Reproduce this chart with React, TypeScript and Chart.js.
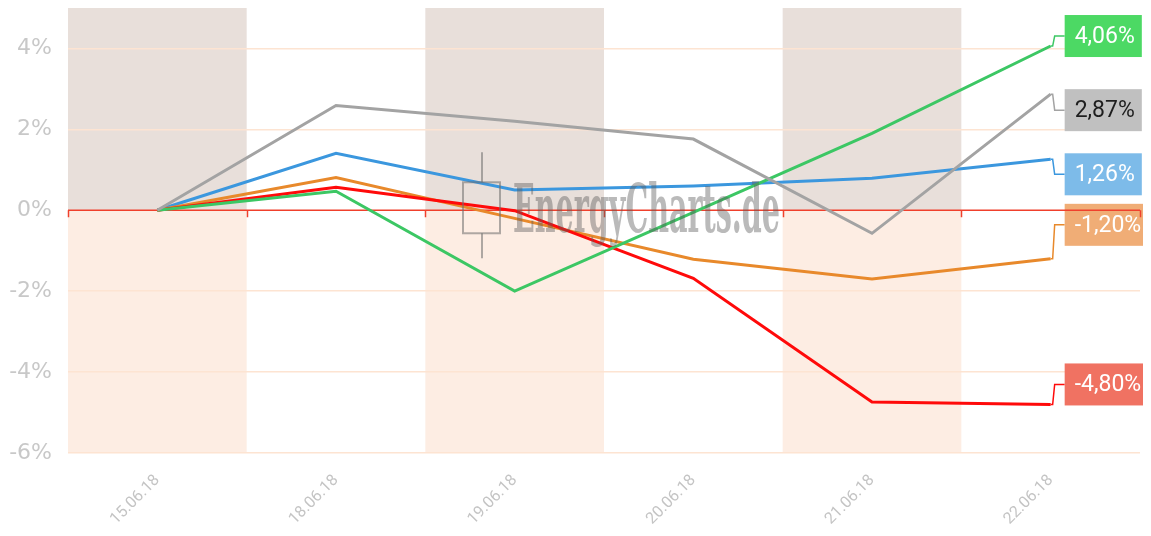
import React, { useEffect, useRef } from "react";
import { Chart, registerables } from "chart.js";

Chart.register(...registerables);

// ---- data ----
const categories = ["15.06.18", "18.06.18", "19.06.18", "20.06.18", "21.06.18", "22.06.18"];
const grayValues = [0, 2.59, 2.2, 1.76, -0.57, 2.87];
const greenValues = [0, 0.47, -2.0, -0.05, 1.9, 4.06];
const redValues = [0, 0.57, -0.01, -1.68, -4.74, -4.8];
const orangeValues = [0, 0.81, -0.2, -1.21, -1.7, -1.2];
const blueValues = [0, 1.41, 0.5, 0.6, 0.79, 1.26];
const yTickValues = [-6, -4, -2, 0, 2, 4];
const yMin = -6;
const yMax = 5;

// ---- styles ----
const seriesStyles = [
  { values: grayValues, line: "#a3a3a3", box: "#c0c0c0", text: "#1e1e1e", nudge: 16 },
  { values: greenValues, line: "#3cc764", box: "#4cd964", text: "#ffffff", nudge: -10 },
  { values: redValues, line: "#ff0a0a", box: "#f07262", text: "#ffffff", nudge: -20 },
  { values: orangeValues, line: "#e8892b", box: "#f0ad76", text: "#ffffff", nudge: -34 },
  { values: blueValues, line: "#3b97de", box: "#7dbbe9", text: "#ffffff", nudge: 15 },
];

const ZERO_COLOR = "#f0402c";
const GRID_COLOR = "#fde4d2";
const BAND_UP = "#e8dfda";
const BAND_DOWN = "#fdede3";

const fmt = (v: number) => v.toFixed(2).replace(".", ",") + "%";

const bandsPlugin = {
  id: "bands",
  beforeDraw(chart: any) {
    const { ctx, chartArea, scales } = chart;
    const x = scales.x;
    const y = scales.y;
    const half = (x.getPixelForValue(1) - x.getPixelForValue(0)) / 2;
    const y0 = y.getPixelForValue(0);
    ctx.save();
    for (let i = 0; i < categories.length; i += 2) {
      const c = x.getPixelForValue(i);
      ctx.fillStyle = BAND_UP;
      ctx.fillRect(c - half, chartArea.top, half * 2, y0 - chartArea.top);
      ctx.fillStyle = BAND_DOWN;
      ctx.fillRect(c - half, y0, half * 2, chartArea.bottom - y0);
    }
    ctx.restore();
  },
  beforeDatasetsDraw(chart: any) {
    const { ctx, chartArea, scales } = chart;
    const x = scales.x;
    const y = scales.y;
    const lastIdx = categories.length - 1;
    const px = x.getPixelForValue(lastIdx);
    const boxLeft = px + 14;
    ctx.save();
    ctx.font = '23px Roboto';
    ctx.textBaseline = "middle";
    ctx.textAlign = "left";
    seriesStyles.forEach((s) => {
      const v = s.values[lastIdx];
      const py = y.getPixelForValue(v);
      const ly = py + s.nudge;
      // connector
      ctx.strokeStyle = s.line;
      ctx.lineWidth = 1.5;
      ctx.beginPath();
      ctx.moveTo(px, py);
      ctx.lineTo(px + 2, py);
      ctx.lineTo(px + 4, ly);
      ctx.lineTo(boxLeft, ly);
      ctx.stroke();
      // box
      const label = fmt(v);
      const tw = ctx.measureText(label).width;
      const bw = tw + 17;
      const bh = 42;
      ctx.fillStyle = s.box;
      ctx.fillRect(boxLeft, ly - bh / 2, bw, bh);
      ctx.fillStyle = s.text;
      ctx.fillText(label, boxLeft + 10, ly + 1);
    });
    // zero line with ticks
    const y0 = y.getPixelForValue(0);
    const half = (x.getPixelForValue(1) - x.getPixelForValue(0)) / 2;
    ctx.strokeStyle = ZERO_COLOR;
    ctx.lineWidth = 1.5;
    ctx.beginPath();
    ctx.moveTo(chartArea.left, y0);
    ctx.lineTo(chartArea.right, y0);
    for (let i = 0; i <= categories.length; i++) {
      const bx = Math.round(x.getPixelForValue(0) - half + i * half * 2) + 0.5;
      ctx.moveTo(bx, y0);
      ctx.lineTo(bx, y0 + 7);
    }
    ctx.stroke();
    ctx.restore();
  },
  afterDatasetsDraw(chart: any) {
    const { ctx, chartArea, scales } = chart;
    const y0 = scales.y.getPixelForValue(0);
    const cx = (chartArea.left + chartArea.right) / 2;
    ctx.save();
    // candlestick icon
    ctx.strokeStyle = "rgba(110,110,110,0.55)";
    ctx.lineWidth = 2;
    ctx.beginPath();
    ctx.moveTo(cx - 122, y0 - 58);
    ctx.lineTo(cx - 122, y0 - 28);
    ctx.moveTo(cx - 122, y0 + 23);
    ctx.lineTo(cx - 122, y0 + 48);
    ctx.stroke();
    ctx.strokeRect(cx - 141, y0 - 28, 37, 51);
    // text
    const text = "EnergyCharts.de";
    ctx.font = 'bold 68px "DejaVu Serif"';
    const w = ctx.measureText(text).width;
    const target = 267;
    ctx.translate(cx - 91, y0 + 22);
    ctx.scale(target / w, 1);
    ctx.fillStyle = "rgba(90,90,90,0.42)";
    ctx.textBaseline = "alphabetic";
    ctx.textAlign = "left";
    ctx.fillText(text, 0, 0);
    ctx.restore();
  },
};

export default function App() {
  const ref = useRef<HTMLCanvasElement>(null);

  useEffect(() => {
    if (!ref.current) return;
    const chart = new Chart(ref.current, {
      type: "line",
      data: {
        labels: categories,
        datasets: seriesStyles.map((s) => ({
          data: s.values,
          borderColor: s.line,
          borderWidth: 3,
          pointRadius: 0,
          tension: 0,
          fill: false,
        })),
      },
      options: {
        responsive: false,
        animation: false,
        layout: { padding: { left: 0, right: 9, top: 0, bottom: 0 } },
        plugins: {
          legend: { display: false },
          tooltip: { enabled: false },
        },
        scales: {
          x: {
            offset: true,
            grid: { display: false },
            border: { display: false },
            ticks: {
              minRotation: 45,
              maxRotation: 45,
              color: "#c4c4c4",
              font: { family: "Roboto", size: 16 },
              padding: 10,
            },
            afterFit: (s: any) => {
              s.height = 75;
              s.paddingLeft = 0;
              s.paddingRight = 0;
            },
          },
          y: {
            min: yMin,
            max: yMax,
            afterBuildTicks: (s: any) => {
              s.ticks = yTickValues.map((v) => ({ value: v }));
            },
            grid: {
              drawTicks: false,
              color: (c: any) => (c.tick && c.tick.value === 0 ? "rgba(0,0,0,0)" : GRID_COLOR),
              lineWidth: 1.5,
            },
            border: { display: false },
            ticks: {
              callback: (v: any) => v + "%",
              color: "#c8c8c8",
              font: { family: "DejaVu Sans", size: 22 },
              padding: 16,
            },
            afterFit: (s: any) => {
              s.width = 60;
              s.paddingTop = 0;
              s.paddingBottom = 0;
            },
          },
        },
      },
      plugins: [bandsPlugin],
    });
    return () => chart.destroy();
  }, []);

  return (
    <div style={{ width: 1141, height: 520 }}>
      <canvas ref={ref} width={1141} height={520} style={{ display: "block" }} />
    </div>
  );
}
